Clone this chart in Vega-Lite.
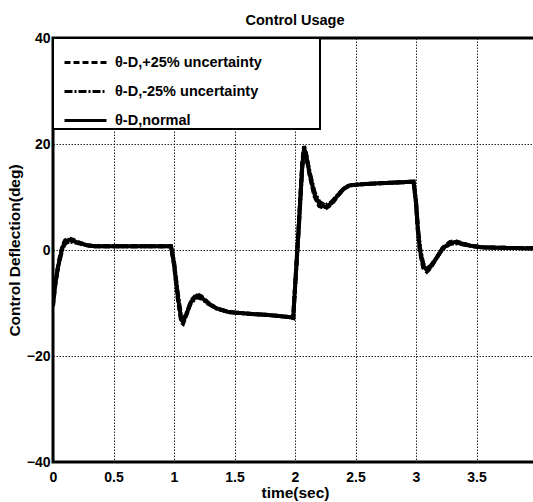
{
  "$schema": "https://vega.github.io/schema/vega-lite/v6.json",
  "width": 484,
  "height": 424,
  "autosize": "none",
  "padding": {"left": 53, "top": 38, "right": -4, "bottom": 40},
  "background": "white",
  "title": {"text": "Control Usage", "font": "Liberation Sans", "fontSize": 14.5, "fontWeight": "bold", "color": "black", "offset": 3, "anchor": "middle"},
  "config": {
    "view": {"stroke": "black", "strokeWidth": 3},
    "axis": {
      "grid": true, "gridColor": "black", "gridDash": [1.5, 1.5], "gridWidth": 1, "gridOpacity": 0.85,
      "ticks": false, "domain": false,
      "labelFont": "Liberation Sans", "labelFontSize": 14, "labelFontWeight": "bold", "labelColor": "black",
      "labelFlush": false, "labelOverlap": false,
      "titleFont": "Liberation Sans", "titleFontSize": 15.5, "titleFontWeight": "bold", "titleColor": "black"
    },
    "legend": {
      "orient": "top-left", "offset": 0,
      "strokeColor": "black", "strokeWidth": 2, "fillColor": "white", "padding": 2,
      "symbolType": "stroke", "symbolSize": 1764, "symbolStrokeWidth": 3, "symbolStrokeColor": "black", "symbolOffset": 8,
      "labelFont": "Liberation Sans", "labelFontSize": 14.5, "labelFontWeight": "bold", "labelColor": "black",
      "labelOffset": 7, "rowPadding": -15, "labelLimit": 400,
      "titleOrient": "right", "titlePadding": 53, "titleColor": "white", "titleFontSize": 8
    }
  },
  "data": {"values": [
    {"series":"θ-D,+25% uncertainty","t":0,"v":-10.6},{"series":"θ-D,+25% uncertainty","t":0.02,"v":-6.4},{"series":"θ-D,+25% uncertainty","t":0.04,"v":-3.3},{"series":"θ-D,+25% uncertainty","t":0.06,"v":-0.9},{"series":"θ-D,+25% uncertainty","t":0.08,"v":0.9},{"series":"θ-D,+25% uncertainty","t":0.1,"v":1.8},{"series":"θ-D,+25% uncertainty","t":0.13,"v":2.2},{"series":"θ-D,+25% uncertainty","t":0.17,"v":1.9},{"series":"θ-D,+25% uncertainty","t":0.22,"v":1.4},{"series":"θ-D,+25% uncertainty","t":0.28,"v":0.9},{"series":"θ-D,+25% uncertainty","t":0.35,"v":0.7},{"series":"θ-D,+25% uncertainty","t":0.5,"v":0.7},{"series":"θ-D,+25% uncertainty","t":0.7,"v":0.7},{"series":"θ-D,+25% uncertainty","t":0.9,"v":0.7},{"series":"θ-D,+25% uncertainty","t":0.975,"v":0.7},{"series":"θ-D,+25% uncertainty","t":1.0,"v":-2.8},{"series":"θ-D,+25% uncertainty","t":1.03,"v":-9.0},{"series":"θ-D,+25% uncertainty","t":1.06,"v":-13.6},{"series":"θ-D,+25% uncertainty","t":1.075,"v":-13.9},{"series":"θ-D,+25% uncertainty","t":1.1,"v":-12.4},{"series":"θ-D,+25% uncertainty","t":1.14,"v":-9.6},{"series":"θ-D,+25% uncertainty","t":1.19,"v":-8.3},{"series":"θ-D,+25% uncertainty","t":1.23,"v":-8.8},{"series":"θ-D,+25% uncertainty","t":1.28,"v":-9.9},{"series":"θ-D,+25% uncertainty","t":1.35,"v":-11.0},{"series":"θ-D,+25% uncertainty","t":1.45,"v":-11.7},{"series":"θ-D,+25% uncertainty","t":1.6,"v":-12.0},{"series":"θ-D,+25% uncertainty","t":1.8,"v":-12.3},{"series":"θ-D,+25% uncertainty","t":1.97,"v":-12.7},{"series":"θ-D,+25% uncertainty","t":1.985,"v":-12.8},{"series":"θ-D,+25% uncertainty","t":2.03,"v":4.4},{"series":"θ-D,+25% uncertainty","t":2.06,"v":16.6},{"series":"θ-D,+25% uncertainty","t":2.075,"v":19.6},{"series":"θ-D,+25% uncertainty","t":2.09,"v":18.4},{"series":"θ-D,+25% uncertainty","t":2.12,"v":14.2},{"series":"θ-D,+25% uncertainty","t":2.16,"v":10.2},{"series":"θ-D,+25% uncertainty","t":2.2,"v":8.3},{"series":"θ-D,+25% uncertainty","t":2.25,"v":7.8},{"series":"θ-D,+25% uncertainty","t":2.3,"v":8.6},{"series":"θ-D,+25% uncertainty","t":2.35,"v":10.1},{"series":"θ-D,+25% uncertainty","t":2.4,"v":11.5},{"series":"θ-D,+25% uncertainty","t":2.45,"v":12.2},{"series":"θ-D,+25% uncertainty","t":2.55,"v":12.4},{"series":"θ-D,+25% uncertainty","t":2.7,"v":12.6},{"series":"θ-D,+25% uncertainty","t":2.9,"v":12.8},{"series":"θ-D,+25% uncertainty","t":2.98,"v":12.9},{"series":"θ-D,+25% uncertainty","t":3.0,"v":8.8},{"series":"θ-D,+25% uncertainty","t":3.015,"v":3.6},{"series":"θ-D,+25% uncertainty","t":3.033,"v":-0.4},{"series":"θ-D,+25% uncertainty","t":3.06,"v":-3.4},{"series":"θ-D,+25% uncertainty","t":3.09,"v":-4.1},{"series":"θ-D,+25% uncertainty","t":3.12,"v":-3.4},{"series":"θ-D,+25% uncertainty","t":3.17,"v":-1.5},{"series":"θ-D,+25% uncertainty","t":3.22,"v":0.4},{"series":"θ-D,+25% uncertainty","t":3.28,"v":1.5},{"series":"θ-D,+25% uncertainty","t":3.32,"v":1.7},{"series":"θ-D,+25% uncertainty","t":3.38,"v":1.3},{"series":"θ-D,+25% uncertainty","t":3.45,"v":0.8},{"series":"θ-D,+25% uncertainty","t":3.55,"v":0.5},{"series":"θ-D,+25% uncertainty","t":3.75,"v":0.4},{"series":"θ-D,+25% uncertainty","t":4.0,"v":0.3},
    {"series":"θ-D,-25% uncertainty","t":0,"v":-9.8},{"series":"θ-D,-25% uncertainty","t":0.02,"v":-6.0},{"series":"θ-D,-25% uncertainty","t":0.04,"v":-3.5},{"series":"θ-D,-25% uncertainty","t":0.06,"v":-1.5},{"series":"θ-D,-25% uncertainty","t":0.08,"v":0.3},{"series":"θ-D,-25% uncertainty","t":0.1,"v":1.2},{"series":"θ-D,-25% uncertainty","t":0.13,"v":1.6},{"series":"θ-D,-25% uncertainty","t":0.17,"v":1.5},{"series":"θ-D,-25% uncertainty","t":0.22,"v":1.2},{"series":"θ-D,-25% uncertainty","t":0.28,"v":0.9},{"series":"θ-D,-25% uncertainty","t":0.35,"v":0.7},{"series":"θ-D,-25% uncertainty","t":0.5,"v":0.7},{"series":"θ-D,-25% uncertainty","t":0.7,"v":0.7},{"series":"θ-D,-25% uncertainty","t":0.9,"v":0.7},{"series":"θ-D,-25% uncertainty","t":0.975,"v":0.7},{"series":"θ-D,-25% uncertainty","t":1.0,"v":-2.2},{"series":"θ-D,-25% uncertainty","t":1.03,"v":-8.0},{"series":"θ-D,-25% uncertainty","t":1.06,"v":-12.8},{"series":"θ-D,-25% uncertainty","t":1.075,"v":-13.1},{"series":"θ-D,-25% uncertainty","t":1.1,"v":-12.1},{"series":"θ-D,-25% uncertainty","t":1.14,"v":-10.0},{"series":"θ-D,-25% uncertainty","t":1.19,"v":-8.9},{"series":"θ-D,-25% uncertainty","t":1.23,"v":-9.2},{"series":"θ-D,-25% uncertainty","t":1.28,"v":-10.1},{"series":"θ-D,-25% uncertainty","t":1.35,"v":-11.0},{"series":"θ-D,-25% uncertainty","t":1.45,"v":-11.7},{"series":"θ-D,-25% uncertainty","t":1.6,"v":-12.0},{"series":"θ-D,-25% uncertainty","t":1.8,"v":-12.3},{"series":"θ-D,-25% uncertainty","t":1.97,"v":-12.7},{"series":"θ-D,-25% uncertainty","t":1.985,"v":-12.8},{"series":"θ-D,-25% uncertainty","t":2.03,"v":3.6},{"series":"θ-D,-25% uncertainty","t":2.06,"v":15.4},{"series":"θ-D,-25% uncertainty","t":2.075,"v":18.8},{"series":"θ-D,-25% uncertainty","t":2.09,"v":18.0},{"series":"θ-D,-25% uncertainty","t":2.12,"v":14.8},{"series":"θ-D,-25% uncertainty","t":2.16,"v":11.0},{"series":"θ-D,-25% uncertainty","t":2.2,"v":9.1},{"series":"θ-D,-25% uncertainty","t":2.25,"v":8.4},{"series":"θ-D,-25% uncertainty","t":2.3,"v":9.0},{"series":"θ-D,-25% uncertainty","t":2.35,"v":10.3},{"series":"θ-D,-25% uncertainty","t":2.4,"v":11.5},{"series":"θ-D,-25% uncertainty","t":2.45,"v":12.2},{"series":"θ-D,-25% uncertainty","t":2.55,"v":12.4},{"series":"θ-D,-25% uncertainty","t":2.7,"v":12.6},{"series":"θ-D,-25% uncertainty","t":2.9,"v":12.8},{"series":"θ-D,-25% uncertainty","t":2.98,"v":12.9},{"series":"θ-D,-25% uncertainty","t":3.0,"v":9.2},{"series":"θ-D,-25% uncertainty","t":3.015,"v":4.4},{"series":"θ-D,-25% uncertainty","t":3.033,"v":0.4},{"series":"θ-D,-25% uncertainty","t":3.06,"v":-2.6},{"series":"θ-D,-25% uncertainty","t":3.09,"v":-3.5},{"series":"θ-D,-25% uncertainty","t":3.12,"v":-3.0},{"series":"θ-D,-25% uncertainty","t":3.17,"v":-1.5},{"series":"θ-D,-25% uncertainty","t":3.22,"v":0.2},{"series":"θ-D,-25% uncertainty","t":3.28,"v":1.1},{"series":"θ-D,-25% uncertainty","t":3.32,"v":1.3},{"series":"θ-D,-25% uncertainty","t":3.38,"v":1.1},{"series":"θ-D,-25% uncertainty","t":3.45,"v":0.8},{"series":"θ-D,-25% uncertainty","t":3.55,"v":0.5},{"series":"θ-D,-25% uncertainty","t":3.75,"v":0.4},{"series":"θ-D,-25% uncertainty","t":4.0,"v":0.3},
    {"series":"θ-D,normal","t":0,"v":-10.2},{"series":"θ-D,normal","t":0.02,"v":-6.2},{"series":"θ-D,normal","t":0.04,"v":-3.4},{"series":"θ-D,normal","t":0.06,"v":-1.2},{"series":"θ-D,normal","t":0.08,"v":0.6},{"series":"θ-D,normal","t":0.1,"v":1.5},{"series":"θ-D,normal","t":0.13,"v":1.9},{"series":"θ-D,normal","t":0.17,"v":1.7},{"series":"θ-D,normal","t":0.22,"v":1.3},{"series":"θ-D,normal","t":0.28,"v":0.9},{"series":"θ-D,normal","t":0.35,"v":0.7},{"series":"θ-D,normal","t":0.5,"v":0.7},{"series":"θ-D,normal","t":0.7,"v":0.7},{"series":"θ-D,normal","t":0.9,"v":0.7},{"series":"θ-D,normal","t":0.975,"v":0.7},{"series":"θ-D,normal","t":1.0,"v":-2.5},{"series":"θ-D,normal","t":1.03,"v":-8.5},{"series":"θ-D,normal","t":1.06,"v":-13.2},{"series":"θ-D,normal","t":1.075,"v":-13.5},{"series":"θ-D,normal","t":1.1,"v":-12.3},{"series":"θ-D,normal","t":1.14,"v":-9.8},{"series":"θ-D,normal","t":1.19,"v":-8.6},{"series":"θ-D,normal","t":1.23,"v":-9.0},{"series":"θ-D,normal","t":1.28,"v":-10.0},{"series":"θ-D,normal","t":1.35,"v":-11.0},{"series":"θ-D,normal","t":1.45,"v":-11.7},{"series":"θ-D,normal","t":1.6,"v":-12.0},{"series":"θ-D,normal","t":1.8,"v":-12.3},{"series":"θ-D,normal","t":1.97,"v":-12.7},{"series":"θ-D,normal","t":1.985,"v":-12.8},{"series":"θ-D,normal","t":2.03,"v":4.0},{"series":"θ-D,normal","t":2.06,"v":16.0},{"series":"θ-D,normal","t":2.075,"v":19.2},{"series":"θ-D,normal","t":2.09,"v":18.2},{"series":"θ-D,normal","t":2.12,"v":14.5},{"series":"θ-D,normal","t":2.16,"v":10.6},{"series":"θ-D,normal","t":2.2,"v":8.7},{"series":"θ-D,normal","t":2.25,"v":8.1},{"series":"θ-D,normal","t":2.3,"v":8.8},{"series":"θ-D,normal","t":2.35,"v":10.2},{"series":"θ-D,normal","t":2.4,"v":11.5},{"series":"θ-D,normal","t":2.45,"v":12.2},{"series":"θ-D,normal","t":2.55,"v":12.4},{"series":"θ-D,normal","t":2.7,"v":12.6},{"series":"θ-D,normal","t":2.9,"v":12.8},{"series":"θ-D,normal","t":2.98,"v":12.9},{"series":"θ-D,normal","t":3.0,"v":9.0},{"series":"θ-D,normal","t":3.015,"v":4.0},{"series":"θ-D,normal","t":3.033,"v":0.0},{"series":"θ-D,normal","t":3.06,"v":-3.0},{"series":"θ-D,normal","t":3.09,"v":-3.8},{"series":"θ-D,normal","t":3.12,"v":-3.2},{"series":"θ-D,normal","t":3.17,"v":-1.5},{"series":"θ-D,normal","t":3.22,"v":0.3},{"series":"θ-D,normal","t":3.28,"v":1.3},{"series":"θ-D,normal","t":3.32,"v":1.5},{"series":"θ-D,normal","t":3.38,"v":1.2},{"series":"θ-D,normal","t":3.45,"v":0.8},{"series":"θ-D,normal","t":3.55,"v":0.5},{"series":"θ-D,normal","t":3.75,"v":0.4},{"series":"θ-D,normal","t":4.0,"v":0.3}
  ]},
  "mark": {"type": "line", "color": "black", "strokeWidth": 4, "clip": true},
  "encoding": {
    "x": {"field": "t", "type": "quantitative", "scale": {"domain": [0, 4], "nice": false, "zero": false},
      "axis": {"values": [0, 0.5, 1, 1.5, 2, 2.5, 3, 3.5, 4], "format": "~g", "labelPadding": 8, "title": "time(sec)", "titlePadding": 1}},
    "y": {"field": "v", "type": "quantitative", "scale": {"domain": [-40, 40], "nice": false},
      "axis": {"values": [-40, -20, 0, 20, 40], "labelPadding": 3, "title": "Control Deflection(deg)", "titlePadding": 4}},
    "strokeDash": {"field": "series", "type": "nominal",
      "scale": {"domain": ["θ-D,+25% uncertainty", "θ-D,-25% uncertainty", "θ-D,normal"], "range": [[6, 3], [8, 2, 2, 2], [1, 0]]},
      "legend": {"title": "."}}
  }
}
